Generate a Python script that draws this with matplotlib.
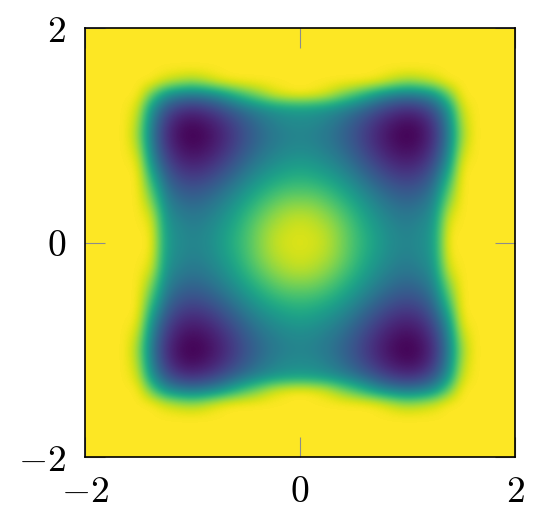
import matplotlib

matplotlib.use("Agg")
import matplotlib.pyplot as plt
import numpy as np

# Colour values for the upper-left quadrant on a 0.125 grid.
# Rows run y = 2 .. 0, columns x = -2 .. 0. 1.0 is the saturated yellow.
QUADRANT = [
    [1, 1, 1, 1, 1, 1, 1, 1, 1, 1, 1, 1, 1, 1, 1, 1, 1],
    [1, 1, 1, 1, 1, 1, 1, 1, 1, 1, 1, 1, 1, 1, 1, 1, 1],
    [1, 1, 1, 1, 1, 1, 1, 1, 1, 1, 1, 1, 1, 1, 1, 1, 1],
    [1, 1, 1, 1, 1, 1, 1, 1, 1, 1, 1, 1, 1, 1, 1, 1, 1],
    [1, 1, 1, 1, 1, 1, .93, .88, .85, .90, .97, 1, 1, 1, 1, 1, 1],
    [1, 1, 1, 1, 1, .75, .50, .41, .38, .41, .48, .60, .72, .82, .93, .98, 1],
    [1, 1, 1, 1, .93, .50, .27, .17, .14, .17, .23, .31, .39, .46, .51, .54, .55],
    [1, 1, 1, 1, .88, .41, .17, .06, .03, .06, .12, .20, .285, .365, .43, .47, .48],
    [1, 1, 1, 1, .85, .38, .14, .03, 0, .025, .086, .167, .253, .333, .396, .436, .45],
    [1, 1, 1, 1, .90, .41, .17, .06, .025, .05, .11, .19, .28, .36, .42, .46, .475],
    [1, 1, 1, 1, .97, .48, .23, .12, .086, .11, .17, .25, .34, .42, .48, .52, .536],
    [1, 1, 1, 1, 1, .60, .31, .20, .167, .19, .25, .33, .42, .50, .56, .60, .62],
    [1, 1, 1, 1, 1, .72, .39, .285, .253, .28, .34, .42, .51, .59, .66, .70, .71],
    [1, 1, 1, 1, 1, .82, .46, .365, .333, .36, .42, .50, .59, .68, .75, .80, .81],
    [1, 1, 1, 1, 1, .93, .51, .43, .396, .42, .48, .56, .66, .75, .83, .88, .90],
    [1, 1, 1, 1, 1, .98, .54, .47, .436, .46, .52, .60, .70, .80, .88, .92, .94],
    [1, 1, 1, 1, 1, 1, .55, .48, .45, .475, .536, .62, .71, .81, .90, .94, .95],
]
TICKS = [-2, 0, 2]
TICK_LABELS = ["$-2$", "$0$", "$2$"]

plt.rcParams["mathtext.fontset"] = "cm"

quad = np.array(QUADRANT, dtype=float)
top = np.hstack((quad, quad[:, -2::-1]))
grid = np.vstack((top, top[-2::-1]))
edge = 2 + 2.0 / (quad.shape[1] - 1) / 2

fig = plt.figure(figsize=(5.41, 5.18), dpi=100)
ax = fig.add_axes([85 / 541, 1 - 457 / 518, 430 / 541, 429 / 518])
ax.imshow(
    grid,
    cmap="viridis",
    vmin=0,
    vmax=1,
    interpolation="bicubic",
    extent=[-edge, edge, -edge, edge],
    aspect="auto",
)
ax.set_xlim(-2, 2)
ax.set_ylim(-2, 2)
ax.set_xticks(TICKS, TICK_LABELS)
ax.set_yticks(TICKS, TICK_LABELS)
ax.tick_params(
    direction="in",
    length=14.4,
    width=0.8,
    color="#8c8c8c",
    top=True,
    right=True,
    labelsize=27,
)
ax.tick_params(axis="x", pad=12)
ax.tick_params(axis="y", pad=13.5)
for spine in ax.spines.values():
    spine.set_linewidth(1.2)

fig.savefig("out.png", dpi=100)
